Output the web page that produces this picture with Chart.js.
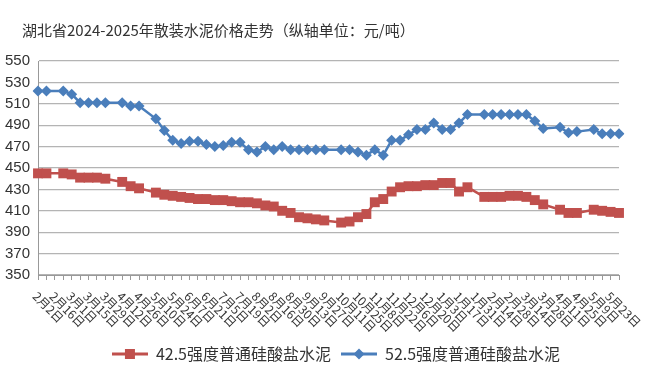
<!DOCTYPE html>
<html>
<head>
<meta charset="utf-8">
<script src="https://cdn.jsdelivr.net/npm/chart.js@4.4.0/dist/chart.umd.min.js"></script>
<style>
  body { margin: 0; background: #fff; }
  #wrap { position: relative; width: 668px; height: 376px; }
  #title {
    position: absolute; left: 22px; top: 19px;
    font-family: "Noto Sans CJK SC", sans-serif; font-size: 15px; color: #333;
    white-space: nowrap;
  }
</style>
</head>
<body>
<div id="wrap">
  <div id="title">湖北省2024-2025年散装水泥价格走势（纵轴单位：元/吨）</div>
  <canvas id="chart" width="668" height="376"></canvas>
</div>
<script>
// weekly dates, 2024-02-02 .. 2025-05-30
var Dates = [
  "2月2日", "2月9日", "2月16日", "2月23日", "3月1日", "3月8日", "3月15日", "3月22日", "3月29日", "4月5日",
  "4月12日", "4月19日", "4月26日", "5月3日", "5月10日", "5月17日", "5月24日", "5月31日", "6月7日", "6月14日",
  "6月21日", "6月28日", "7月5日", "7月12日", "7月19日", "7月26日", "8月2日", "8月9日", "8月16日", "8月23日",
  "8月30日", "9月6日", "9月13日", "9月20日", "9月27日", "10月4日", "10月11日", "10月18日", "10月25日", "11月1日",
  "11月8日", "11月15日", "11月22日", "11月29日", "12月6日", "12月13日", "12月20日", "12月27日", "1月3日", "1月10日",
  "1月17日", "1月24日", "1月31日", "2月7日", "2月14日", "2月21日", "2月28日", "3月7日", "3月14日", "3月21日",
  "3月28日", "4月4日", "4月11日", "4月18日", "4月25日", "5月2日", "5月9日", "5月16日", "5月23日", "5月30日"
];

// 42.5 强度 (null = 节假日无报价)
var P425 = [
  445, 445, null, 445, 444, 441, 441, 441, 440, null,
  437, 433, 431, null, 427, 425, 424, 423, 422, 421,
  421, 420, 420, 419, 418, 418, 417, 415, 414, 410,
  408, 404, 403, 402, 401, null, 399, 400, 404, 407,
  418, 421, 428, 432, 433, 433, 434, 434, 436, 436,
  428, 432, null, 423, 423, 423, 424, 424, 423, 420,
  416, null, 411, 408, 408, null, 411, 410, 409, 408
];

// 52.5 强度
var P525 = [
  522, 522, null, 522, 519, 511, 511, 511, 511, null,
  511, 508, 508, null, 496, 485, 476, 473, 475, 475,
  472, 470, 471, 474, 474, 467, 465, 470, 467, 470,
  467, 467, 467, 467, 467, null, 467, 467, 465, 462,
  467, 462, 476, 476, 481, 486, 486, 492, 486, 486,
  492, 500, null, 500, 500, 500, 500, 500, 500, 494,
  487, null, 488, 483, 484, null, 486, 482, 482, 482
];

var YTicks = [350, 370, 390, 410, 430, 450, 470, 490, 510, 530, 550];

var RED = "#C0504D";
var BLUE = "#4A7EBB";

function LegendIcon(color, style) {
  var c = document.createElement("canvas");
  c.width = 36;
  c.height = 14;
  var g = c.getContext("2d");
  g.strokeStyle = color;
  g.lineWidth = 3;
  g.beginPath();
  g.moveTo(0, 7);
  g.lineTo(36, 7);
  g.stroke();
  g.fillStyle = color;
  if (style == "rect") {
    g.fillRect(13, 2, 10, 10);
  } else {
    g.beginPath();
    g.moveTo(18, 1.5);
    g.lineTo(23.5, 7);
    g.lineTo(18, 12.5);
    g.lineTo(12.5, 7);
    g.closePath();
    g.fill();
  }
  return c;
}

// x labels are drawn slanting down to the right, every second category
var xLabelPlugin = {
  id: "xLabels",
  afterDraw: function(chart) {
    var ctx = chart.ctx;
    var xs = chart.scales.x;
    ctx.save();
    ctx.font = '12px "Noto Sans CJK SC"';
    ctx.fillStyle = "#333";
    ctx.textAlign = "left";
    ctx.textBaseline = "middle";
    for (var i = 0; i < Dates.length; i += 2) {
      ctx.save();
      ctx.translate(xs.getPixelForValue(i) - 3, xs.top + 19);
      ctx.rotate(Math.PI / 4);
      ctx.fillText(Dates[i], 0, 0);
      ctx.restore();
    }
    ctx.restore();
  }
};

new Chart(document.getElementById("chart"), {
  type: "line",
  data: {
    labels: Dates,
    datasets: [
      {
        label: "42.5强度普通硅酸盐水泥",
        data: P425,
        borderColor: RED,
        backgroundColor: RED,
        borderWidth: 2.5,
        pointStyle: "rect",
        pointRadius: 7,
        pointBorderWidth: 0,
        spanGaps: true,
        tension: 0
      },
      {
        label: "52.5强度普通硅酸盐水泥",
        data: P525,
        borderColor: BLUE,
        backgroundColor: BLUE,
        borderWidth: 2.5,
        pointStyle: "rectRot",
        pointRadius: 5.5,
        pointBorderWidth: 0,
        spanGaps: true,
        tension: 0
      }
    ]
  },
  options: {
    responsive: false,
    animation: false,
    layout: { padding: { top: 61, left: 4, right: 0, bottom: 4 } },
    plugins: {
      title: { display: false },
      tooltip: { enabled: false },
      legend: {
        position: "bottom",
        labels: {
          font: { family: "Noto Sans CJK SC", size: 16 },
          color: "#333",
          usePointStyle: true,
          pointStyleWidth: 36,
          padding: 10,
          generateLabels: function(chart) {
            return chart.data.datasets.map(function(ds, i) {
              return {
                text: ds.label,
                datasetIndex: i,
                fontColor: "#333",
                pointStyle: LegendIcon(ds.borderColor, ds.pointStyle),
                strokeStyle: ds.borderColor,
                fillStyle: ds.borderColor,
                lineWidth: 0
              };
            });
          }
        }
      }
    },
    scales: {
      x: {
        offset: false,
        grid: { drawOnChartArea: false, drawTicks: true, tickLength: 5, color: "#999" },
        border: { color: "#999", width: 1 },
        ticks: { display: false, autoSkip: false },
        afterFit: function(scale) { scale.height = 61; }
      },
      y: {
        min: 350,
        max: 550,
        afterBuildTicks: function(scale) {
          scale.ticks = YTicks.map(function(v) { return { value: v }; });
        },
        grid: { color: "#b4b4b4", lineWidth: 1.3, drawTicks: false },
        border: { color: "#999", width: 1 },
        ticks: {
          font: { family: "Liberation Sans", size: 15 },
          color: "#333",
          padding: 8
        },
        afterFit: function(scale) { scale.width = 34; }
      },
      // empty right margin, keeps the legend centred on the page
      yPad: {
        position: "right",
        display: true,
        grid: { display: false },
        border: { display: false },
        ticks: { display: false },
        afterFit: function(scale) { scale.width = 49; }
      }
    }
  },
  plugins: [xLabelPlugin]
});
</script>
</body>
</html>
